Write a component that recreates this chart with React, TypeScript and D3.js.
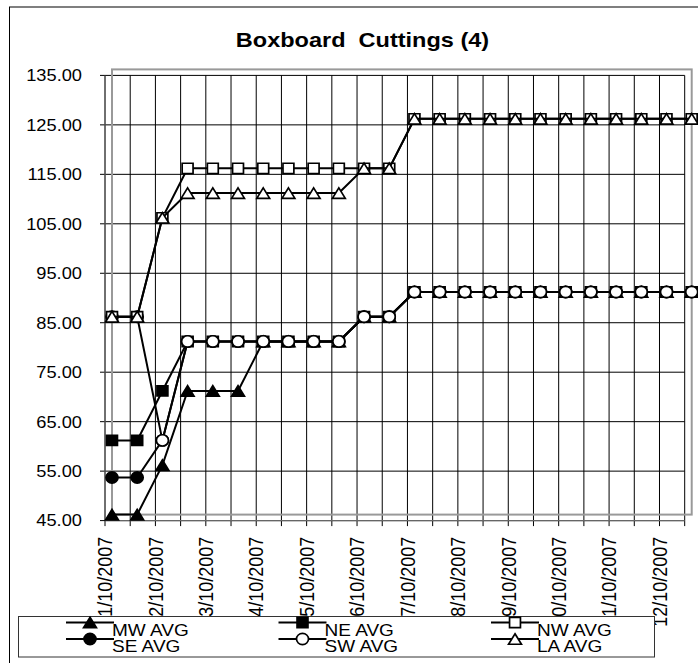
import React from "react";
import * as d3 from "d3";

// x tick labels, one on every second period
const tickLabels = [
  "1/10/2007",
  "2/10/2007",
  "3/10/2007",
  "4/10/2007",
  "5/10/2007",
  "6/10/2007",
  "7/10/2007",
  "8/10/2007",
  "9/10/2007",
  "10/10/2007",
  "11/10/2007",
  "12/10/2007",
];

const yTickValues = [45, 55, 65, 75, 85, 95, 105, 115, 125, 135];

const mwAvg = [45, 45, 55, 70, 70, 70, 80, 80, 80, 80, 85, 85, 90, 90, 90, 90, 90, 90, 90, 90, 90, 90, 90, 90];
const seAvg = [52.5, 52.5, 60, 80, 80, 80, 80, 80, 80, 80, 85, 85, 90, 90, 90, 90, 90, 90, 90, 90, 90, 90, 90, 90];
const neAvg = [60, 60, 70, 80, 80, 80, 80, 80, 80, 80, 85, 85, 90, 90, 90, 90, 90, 90, 90, 90, 90, 90, 90, 90];
const swAvg = [85, 85, 60, 80, 80, 80, 80, 80, 80, 80, 85, 85, 90, 90, 90, 90, 90, 90, 90, 90, 90, 90, 90, 90];
const nwAvg = [85, 85, 105, 115, 115, 115, 115, 115, 115, 115, 115, 115, 125, 125, 125, 125, 125, 125, 125, 125, 125, 125, 125, 125];
const laAvg = [85, 85, 105, 110, 110, 110, 110, 110, 110, 110, 115, 115, 125, 125, 125, 125, 125, 125, 125, 125, 125, 125, 125, 125];

const W = 698;
const H = 663;
const FONT = "'Liberation Sans', Arial, Helvetica, sans-serif";
const SX = 1.12; // the picture is a little wider than tall

// series in drawing order (legend is column-major, 2 rows)
const series = [
  { name: "MW AVG", values: mwAvg, type: d3.symbolTriangle, fill: "#000" },
  { name: "SE AVG", values: seAvg, type: d3.symbolCircle, fill: "#000" },
  { name: "NE AVG", values: neAvg, type: d3.symbolSquare, fill: "#000" },
  { name: "SW AVG", values: swAvg, type: d3.symbolCircle, fill: "#fff" },
  { name: "NW AVG", values: nwAvg, type: d3.symbolSquare, fill: "#fff" },
  { name: "LA AVG", values: laAvg, type: d3.symbolTriangle, fill: "#fff" },
];

function markerPath(type: any) {
  if (type === d3.symbolTriangle) return d3.symbol(type, 64)()!;
  if (type === d3.symbolCircle) return d3.symbol(type, 100)()!;
  return d3.symbol(type, 105)()!;
}
// d3 triangles sit on their centroid, Excel centres the box
const markerDy = (type: any) => (type === d3.symbolTriangle ? 1.75 : 0);

const Marker = ({ x, y, type, fill }: any) => (
  <path
    d={markerPath(type)}
    transform={`translate(${x},${y + markerDy(type)}) scale(${SX * 0.95},1)`}
    fill={fill}
    stroke="#000"
    strokeWidth={1.6}
  />
);

export default function App() {
  const n = mwAvg.length;
  const left = 105;
  const right = 684.7;
  const top = 75.4;
  const bottom = 520.6;
  // the plot area (frame + series) is drawn offset from the axes
  const offX = 7;
  const offY = -6;

  const x = d3.scalePoint<number>().domain(d3.range(n)).range([left, right]);
  const y = d3.scaleLinear().domain([45, 135]).range([bottom, top]);
  const fmt = d3.format(".2f");

  const line = d3
    .line<number>()
    .x((_, i) => x(i)! + offX)
    .y((d) => y(d) + offY);

  const legX0 = 90;
  const legColW = 212.5;
  const legY0 = 622.5;
  const legRowH = 16.5;

  return (
    <svg
      width={W}
      height={H}
      style={{ position: "absolute", left: 0, top: 0, display: "block", background: "#fff" }}
      fontFamily={FONT}
    >
      <rect x={9.5} y={7} width={W + 20} height={H + 20} fill="#fff" stroke="#000" strokeWidth={1} />

      <text
        transform={`translate(362.5,47) scale(${SX},1)`}
        textAnchor="middle"
        fontWeight="bold"
        fontSize={21}
        style={{ whiteSpace: "pre" }}
      >
        {"Boxboard  Cuttings (4)"}
      </text>

      {/* horizontal gridlines + y ticks */}
      {yTickValues.map((v) => (
        <g key={"h" + v}>
          <line x1={left - 5} x2={right} y1={y(v)} y2={y(v)} stroke="#000" strokeWidth={1} />
          <text
            transform={`translate(82,${y(v)}) scale(${SX},1)`}
            textAnchor="end"
            dy="0.36em"
            fontSize={16.3}
          >
            {fmt(v)}
          </text>
        </g>
      ))}

      {/* vertical gridlines + x ticks */}
      {d3.range(n).map((i) => (
        <g key={"v" + i}>
          <line x1={x(i)} x2={x(i)} y1={top} y2={bottom + 5.5} stroke="#000" strokeWidth={1} />
        </g>
      ))}

      {/* axes */}
      <line x1={left} x2={left} y1={top} y2={bottom} stroke="#666" strokeWidth={1.2} />
      <line x1={left} x2={right} y1={bottom} y2={bottom} stroke="#666" strokeWidth={1.2} />

      {/* plot area frame */}
      <rect
        x={left + offX}
        y={top + offY}
        width={right - left}
        height={bottom - top}
        fill="none"
        stroke="#999"
        strokeWidth={2}
      />

      {/* x labels */}
      {tickLabels.map((t, k) => (
        <text
          key={t}
          transform={`translate(${x(k * 2)},536.7) scale(${SX},1) rotate(-90)`}
          textAnchor="end"
          dy="0.36em"
          fontSize={18}
        >
          {t}
        </text>
      ))}

      {/* series */}
      {series.map((s) => (
        <g key={s.name}>
          <path d={line(s.values)!} fill="none" stroke="#000" strokeWidth={2} />
          {s.values.map((v, i) => (
            <Marker key={i} x={x(i)! + offX} y={y(v) + offY} type={s.type} fill={s.fill} />
          ))}
        </g>
      ))}

      {/* legend */}
      <rect x={18.5} y={616.5} width={636} height={40.5} fill="#fff" stroke="#333" strokeWidth={1} />
      {series.map((s, i) => {
        const col = Math.floor(i / 2);
        const row = i % 2;
        const mx = legX0 + col * legColW;
        const my = legY0 + row * legRowH;
        return (
          <g key={"leg" + s.name}>
            <line x1={mx - 24} x2={mx + 24} y1={my} y2={my} stroke="#000" strokeWidth={2} />
            <Marker x={mx} y={my} type={s.type} fill={s.fill} />
            <text transform={`translate(${mx + 22},${my + 13}) scale(${SX},1)`} fontSize={17}>
              {s.name}
            </text>
          </g>
        );
      })}
    </svg>
  );
}
